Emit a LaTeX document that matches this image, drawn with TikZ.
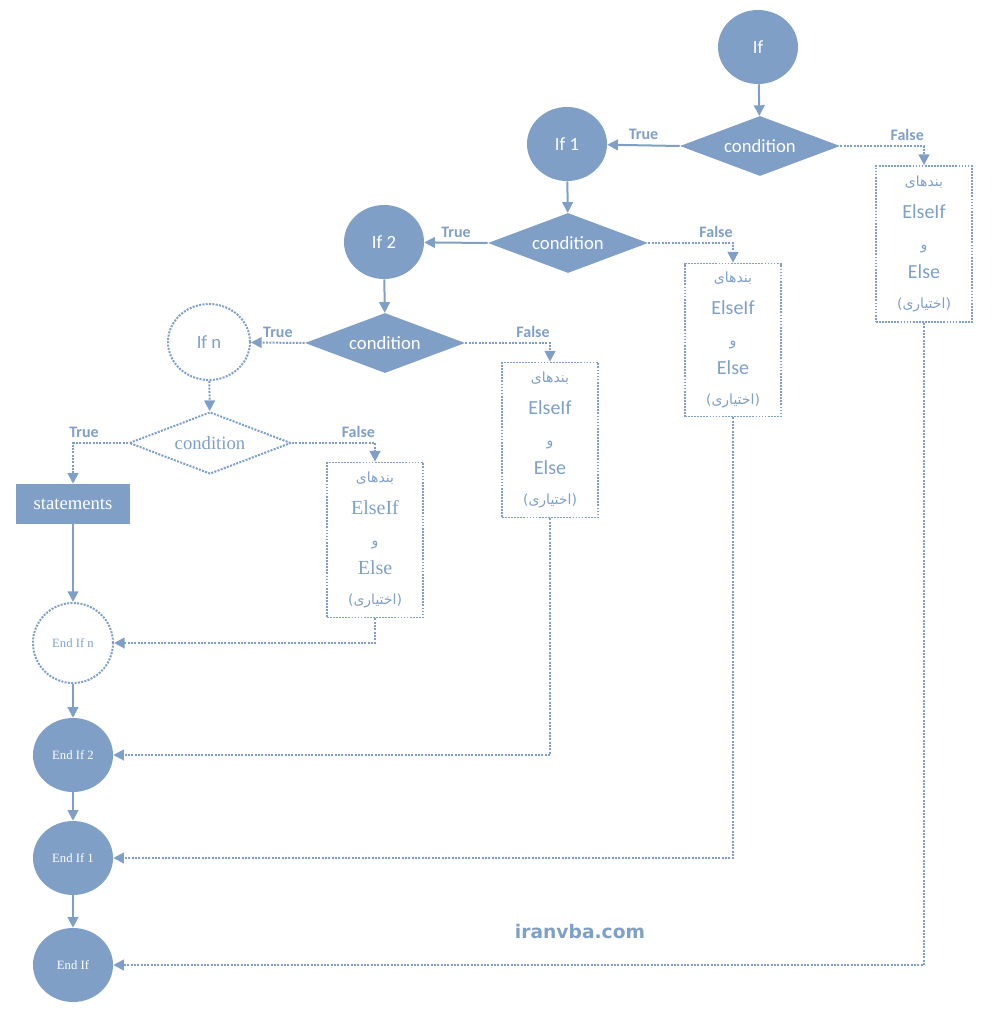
\documentclass[tikz,border=0pt]{standalone}
\usepackage{fontspec}
\setmainfont{Liberation Serif}
\newfontfamily\calf{Carlito}
\newfontfamily\djf{DejaVu Sans}
\newfontfamily\faf[Script=Arabic]{DejaVu Sans}
\usetikzlibrary{shapes.geometric,arrows.meta}
\TeXXeTstate=1
\definecolor{bl}{HTML}{7F9FC6}
\newcommand{\ar}[1]{{\faf\fontsize{10.5}{12}\selectfont\beginR #1\endR}}
\begin{document}
\begin{tikzpicture}[x=0.75pt,y=-0.75pt,
 ell/.style={ellipse,fill=bl,minimum width=80*0.75pt,minimum height=74*0.75pt,inner sep=0,text=white},
 dell/.style={ellipse,draw=bl,densely dotted,line width=1.5pt,minimum width=82*0.75pt,minimum height=76*0.75pt,inner sep=0,text=bl},
 dia/.style={diamond,aspect=2.65,fill=bl,inner sep=0,minimum width=160*0.75pt,minimum height=60*0.75pt,text=white,font=\calf\fontsize{14}{16}\selectfont},
 box/.style={draw=bl,densely dotted,line width=1.3pt,minimum width=96*0.75pt,text=bl,align=center,inner sep=0},
 sol/.style={draw=bl,line width=1.5pt,-{Triangle[length=8pt,width=8pt]}},
 dot/.style={draw=bl,densely dotted,line width=1.5pt,-{Triangle[length=8pt,width=8pt]}},
 lab/.style={text=bl,font=\calf\bfseries\fontsize{12}{14}\selectfont},
]
\useasboundingbox (0,0) rectangle (996,1024);
\node[ell,font=\calf\fontsize{14}{16}\selectfont] (if) at (758,47) {If};
\node[dia] (c1) at (760,146) {condition};
\node[ell,font=\calf\fontsize{14}{16}\selectfont] (if1) at (567,144) {If 1};
\node[dia] (c2) at (568,243) {condition};
\node[ell,font=\calf\fontsize{14}{16}\selectfont] (if2) at (384,242) {If 2};
\node[dia] (c3) at (385,343) {condition};
\node[dell,font=\calf\fontsize{14}{16}\selectfont] (ifn) at (209,342) {If n};
\node[diamond,aspect=2.6,draw=bl,densely dotted,line width=1.5pt,inner sep=0,minimum width=162*0.75pt,minimum height=62*0.75pt,text=bl,font=\fontsize{14}{16}\selectfont] (cn) at (210,443) {condition};
\node[fill=bl,text=white,minimum width=114*0.75pt,minimum height=40*0.75pt,inner sep=0,font=\fontsize{14}{16}\selectfont] (st) at (73,504) {statements};
\node[dell,minimum width=80*0.75pt,minimum height=80*0.75pt,font=\fontsize{9.5}{11}\selectfont] (en) at (73,643) {End If n};
\node[ell,font=\fontsize{9.5}{11}\selectfont] (e2) at (73,755) {End If 2};
\node[ell,font=\fontsize{9.5}{11}\selectfont] (e1) at (73,858) {End If 1};
\node[ell,font=\fontsize{9.5}{11}\selectfont] (e0) at (73,965) {End If};
\newcommand{\boxtext}{\ar{بندهای}\\[7pt]ElseIf\\[6pt]\ar{و}\\[5pt]Else\\[5pt]\ar{(اختیاری)}}
\node[box,minimum height=156*0.75pt,font=\calf\fontsize{15}{17}\selectfont] (b1) at (924,244) {\boxtext};
\node[box,minimum height=153*0.75pt,font=\calf\fontsize{15}{17}\selectfont] (b2) at (733,340) {\boxtext};
\node[box,minimum height=155*0.75pt,font=\calf\fontsize{15}{17}\selectfont] (b3) at (550,440) {\boxtext};
\node[box,minimum height=155*0.75pt,font=\fontsize{15}{17}\selectfont] (b4) at (375,540) {\boxtext};
\node[text=bl,font=\djf\bfseries\fontsize{14}{16}\selectfont] (web) at (580,932) {iranvba.com};
% main flow
\draw[sol] (if) -- (c1);
\draw[sol] (if1) -- (c2);
\draw[sol] (if2) -- (c3);
\draw[dot] (ifn) -- (cn);
\draw[sol] (c1.west) -- node[lab,above] {True} (if1);
\draw[sol] (c2.west) -- node[lab,above] {True} (if2);
\draw[dot] (c3.west) -- node[lab,above] {True} (ifn);
\draw[dot] (cn.west) -| node[lab,above,pos=0.4] {True} (st.north);
\draw[sol] (st) -- (en);
\draw[sol] (en) -- (e2);
\draw[sol] (e2) -- (e1);
\draw[sol] (e1) -- (e0);
% false
\draw[dot] (c1.east) -| node[lab,above,pos=0.4] {False} (b1.north);
\draw[dot] (c2.east) -| node[lab,above,pos=0.4] {False} (b2.north);
\draw[dot] (c3.east) -| node[lab,above,pos=0.4] {False} (b3.north);
\draw[dot] (cn.east) -| node[lab,above,pos=0.4] {False} (b4.north);
% returns
\draw[dot] (b4.south) |- (en.east);
\draw[dot] (b3.south) |- (e2.east);
\draw[dot] (b2.south) |- (e1.east);
\draw[dot] (b1.south) |- (e0.east);
\end{tikzpicture}
\end{document}
